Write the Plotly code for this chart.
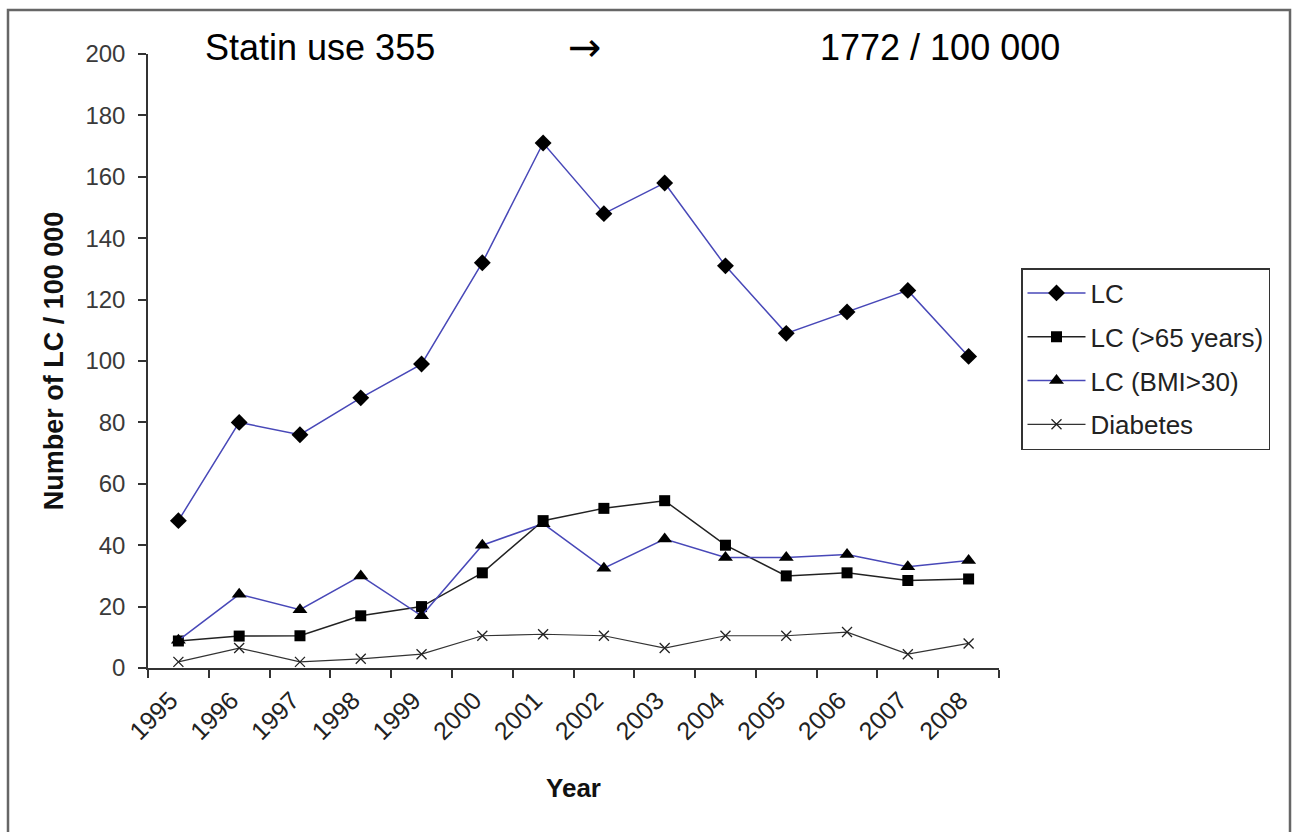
import plotly.graph_objects as go

years = ["1995", "1996", "1997", "1998", "1999", "2000", "2001", "2002",
         "2003", "2004", "2005", "2006", "2007", "2008"]
lc = [48, 80, 76, 88, 99, 132, 171, 148, 158, 131, 109, 116, 123, 101.5]
lc_65 = [8.8, 10.4, 10.5, 17, 20, 31, 48, 52, 54.5, 40, 30, 31, 28.5, 29]
lc_bmi = [9, 24, 19, 30, 17, 40, 47, 32.5, 42, 36, 36, 37, 33, 35]
diabetes = [2, 6.5, 2, 3, 4.5, 10.5, 11, 10.5, 6.5, 10.5, 10.5, 11.7, 4.5, 8]

BLUE = "#4848b8"
FONT = "Liberation Sans, Arial, sans-serif"

fig = go.Figure()
fig.add_trace(go.Scatter(x=years, y=lc, name="LC", mode="lines+markers",
                         legendgroup="a",
                         line=dict(color=BLUE, width=1.5),
                         marker=dict(symbol="diamond", size=13, color="black")))
fig.add_trace(go.Scatter(x=years, y=lc_65, name="LC (>65 years)", mode="lines+markers",
                         legendgroup="b",
                         line=dict(color="#222222", width=1.5),
                         marker=dict(symbol="square", size=11, color="black")))
fig.add_trace(go.Scatter(x=years, y=lc_bmi, name="LC (BMI>30)", mode="lines+markers",
                         legendgroup="c",
                         line=dict(color=BLUE, width=1.5),
                         marker=dict(symbol="triangle-up", size=13, color="black")))
fig.add_trace(go.Scatter(x=years, y=diabetes, name="Diabetes", mode="lines+markers",
                         legendgroup="d",
                         line=dict(color="#333333", width=1.2),
                         marker=dict(symbol="x-thin", size=10,
                                     line=dict(color="#222222", width=1.3))))

L, R, T, B = 148, 999, 54, 668
W, H = 1292, 832
pw, ph = R - L, B - T

def px_x(p):
    return (p - L) / pw

def px_y(p):
    return (B - p) / ph

fig.update_layout(
    width=W, height=H,
    margin=dict(l=L, r=W - R, t=T, b=H - B),
    paper_bgcolor="white", plot_bgcolor="white",
    font=dict(family=FONT, size=22, color="#333333"),
    showlegend=True,
    legend=dict(x=px_x(1021), y=px_y(268), xanchor="left", yanchor="top",
                bordercolor="#333333", borderwidth=1.5,
                font=dict(family=FONT, size=26, color="#222222"),
                tracegroupgap=7, itemwidth=58,
                bgcolor="white"),
    xaxis=dict(type="category", tickson="boundaries", ticks="outside",
               ticklen=8, tickcolor="#333333", tickwidth=1.5,
               showline=True, linecolor="#333333", linewidth=1.5,
               showgrid=False, zeroline=False, tickangle=-45,
               ticklabelshift=-8, ticklabelstandoff=6,
               tickfont=dict(family=FONT, size=25, color="#222222"),
               range=[-0.5, 13.5],
               title=dict(text="<b>Year</b>", font=dict(family=FONT, size=26, color="#111111"),
                          standoff=35)),
    yaxis=dict(range=[0, 200], dtick=20, ticks="outside", ticklen=8,
               tickcolor="#333333", tickwidth=1.5,
               showline=True, linecolor="#333333", linewidth=1.5,
               showgrid=False, zeroline=False, ticklabelstandoff=8,
               tickfont=dict(family=FONT, size=24, color="#3a3a3a"),
               title=dict(text="<b>Number of LC / 100 000</b>",
                          font=dict(family=FONT, size=27, color="#111111"),
                          standoff=14)),
    shapes=[dict(type="rect", xref="paper", yref="paper",
                 x0=px_x(8), x1=px_x(1290), y0=px_y(850), y1=px_y(10),
                 line=dict(color="#666666", width=2.5), layer="below")],
    annotations=[
        dict(text="Statin use 355", xref="paper", yref="paper",
             x=px_x(203), y=px_y(47), xanchor="left", yanchor="middle",
             showarrow=False, font=dict(family=FONT, size=36, color="black")),
        dict(text="\u2192", xref="paper", yref="paper",
             x=px_x(585), y=px_y(47), xanchor="center", yanchor="middle",
             showarrow=False, font=dict(family="DejaVu Sans", size=40, color="black")),
        dict(text="1772 / 100 000", xref="paper", yref="paper",
             x=px_x(1062), y=px_y(47), xanchor="right", yanchor="middle",
             showarrow=False, font=dict(family=FONT, size=36, color="black")),
    ],
)

fig.write_html("out.html", config={"displayModeBar": False},
               post_script="document.body.style.margin='0';")
